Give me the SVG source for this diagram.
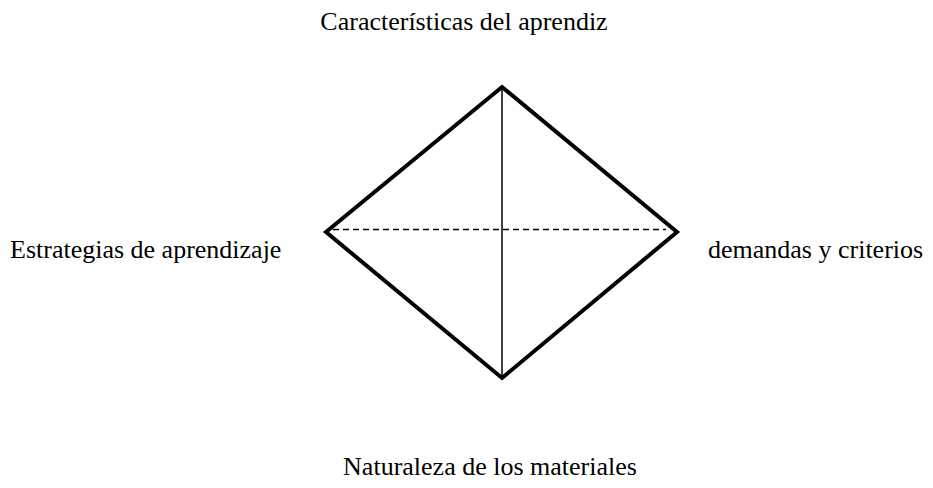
<svg xmlns="http://www.w3.org/2000/svg" width="933" height="488" viewBox="0 0 933 488">
<style>
.lbl{font-family:"Liberation Serif","Times New Roman",serif;font-size:26px;fill:#000}
.edge{stroke:#000;stroke-width:4;stroke-linecap:round;fill:none}
</style>
<rect width="933" height="488" fill="#fff"/>
<g id="connectors">
<path class="edge" d="M502,87 L677,232 L502,378 L326,232 Z" stroke-linejoin="miter"/>
<line x1="502" y1="87" x2="502" y2="378" stroke="#000" stroke-width="1.5"/>
<line x1="333" y1="229.5" x2="666" y2="229.5" stroke="#000" stroke-width="1.5" stroke-dasharray="6,4"/>
</g>
<g id="n-top"><text class="lbl" x="464" y="30" text-anchor="middle">Características del aprendiz</text></g>
<g id="n-left"><text class="lbl" x="10" y="258">Estrategias de aprendizaje</text></g>
<g id="n-right"><text class="lbl" x="708" y="258">demandas y criterios</text></g>
<g id="n-bottom"><text class="lbl" x="490" y="475" text-anchor="middle">Naturaleza de los materiales</text></g>
</svg>
